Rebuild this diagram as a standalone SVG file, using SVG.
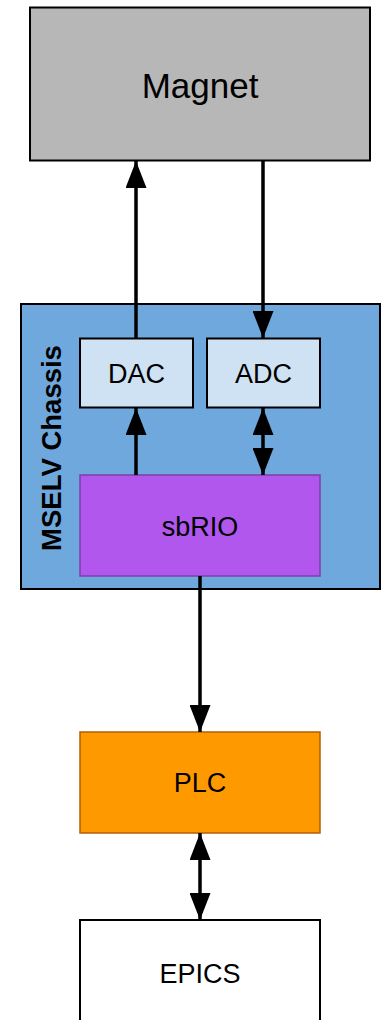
<svg xmlns="http://www.w3.org/2000/svg" width="381" height="1020" viewBox="0 0 381 1020">
<style>
text{font-family:"Liberation Sans",Arial,sans-serif;fill:#000;text-anchor:middle}
.lbl{font-size:27px}
.box{stroke:#000;stroke-width:2}
.conn{stroke:#000;stroke-width:3.5;fill:none}
</style>
<defs>
<marker id="ah" viewBox="0 0 27 21" refX="27" refY="10.5" markerWidth="27" markerHeight="21" markerUnits="userSpaceOnUse" orient="auto-start-reverse">
<path d="M0,0 L27,10.5 L0,21 z" fill="#000"/>
</marker>
</defs>
<rect width="381" height="1020" fill="#fff"/>
<g id="magnet">
<rect class="box" x="30" y="7.5" width="340" height="153" fill="#b7b7b7"/>
<text x="200" y="97.5" style="font-size:35px">Magnet</text>
</g>
<g id="chassis">
<rect class="box" x="21" y="304" width="359" height="285" fill="#6fa8dc"/>
<text transform="translate(61,448) rotate(-90)" style="font-size:27.5px;font-weight:bold">MSELV Chassis</text>
</g>
<g id="dac">
<rect class="box" x="80" y="338.5" width="113" height="69" fill="#cfe2f3"/>
<text class="lbl" x="136.5" y="382.5">DAC</text>
</g>
<g id="adc">
<rect class="box" x="207" y="338.5" width="113" height="69" fill="#cfe2f3"/>
<text class="lbl" x="263.5" y="382.5">ADC</text>
</g>
<g id="sbrio">
<rect x="80" y="475" width="240" height="101" fill="#b157ed" stroke="#7d3fa8" stroke-width="1.5"/>
<text class="lbl" x="200" y="536">sbRIO</text>
</g>
<g id="plc">
<rect x="80" y="732" width="240" height="101" fill="#ff9900" stroke="#b45f06" stroke-width="1.5"/>
<text class="lbl" x="200" y="792">PLC</text>
</g>
<g id="epics">
<rect class="box" x="80" y="920" width="240" height="110" fill="#fff"/>
<text class="lbl" x="200" y="982.5">EPICS</text>
</g>
<g id="connectors">
<line class="conn" x1="136" y1="338" x2="136" y2="161" marker-end="url(#ah)"/>
<line class="conn" x1="263" y1="161" x2="263" y2="338" marker-end="url(#ah)"/>
<line class="conn" x1="136" y1="475" x2="136" y2="408" marker-end="url(#ah)"/>
<line class="conn" x1="263" y1="408" x2="263" y2="475" marker-start="url(#ah)" marker-end="url(#ah)"/>
<line class="conn" x1="200" y1="576" x2="200" y2="732" marker-end="url(#ah)"/>
<line class="conn" x1="200" y1="833" x2="200" y2="920" marker-start="url(#ah)" marker-end="url(#ah)"/>
</g>
</svg>
